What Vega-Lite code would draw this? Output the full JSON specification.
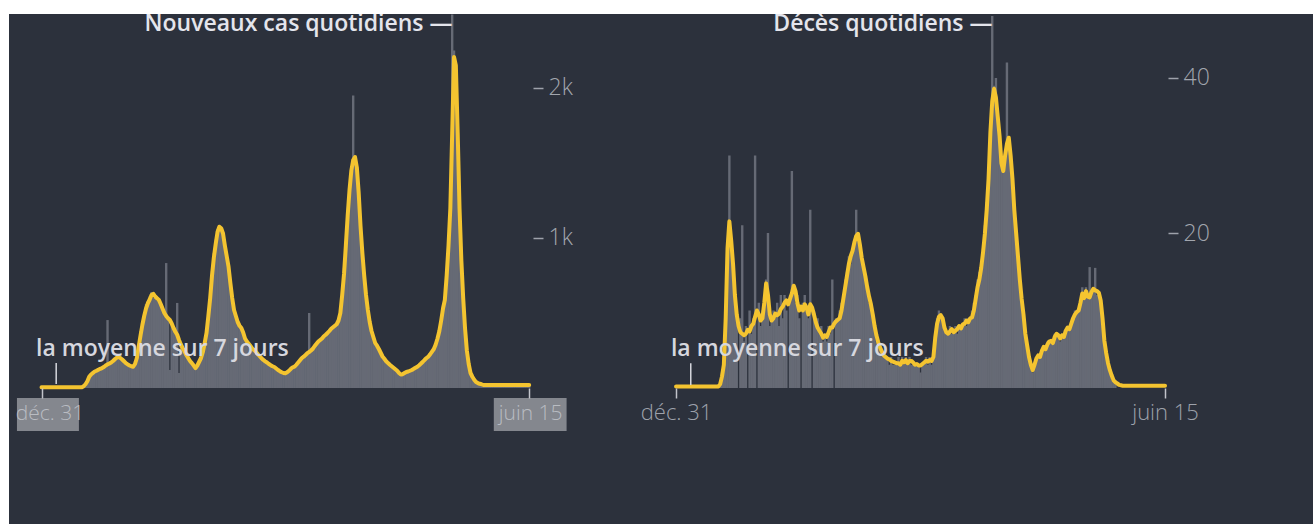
{
"$schema":"https://vega.github.io/schema/vega-lite/v6.json",
"background":"#ffffff",
"padding":{"left":9,"top":14,"right":0,"bottom":0},
"spacing":0,
"config":{"font":"Open Sans","view":{"stroke":null,"fill":"#2c313c"},"axis":{"grid":false,"domain":false}},
"datasets":{
"cases":[
{"t":0,"c":5,"a":5},{"t":2,"c":5,"a":5},{"t":4,"c":5,"a":5},{"t":6,"c":5,"a":5},{"t":8,"c":5,"a":5},{"t":10,"c":5,"a":5},{"t":12,"c":5,"a":5},{"t":14,"c":5,"a":5},{"t":16,"c":5,"a":5},{"t":18,"c":5,"a":5},{"t":20,"c":5,"a":5},{"t":22,"c":5,"a":5},{"t":24,"c":5,"a":5},{"t":26,"c":5,"a":5},{"t":28,"c":5,"a":5},{"t":30,"c":5,"a":5},{"t":32,"c":5,"a":5},{"t":34,"c":5,"a":5},{"t":36,"c":5,"a":5},{"t":38,"c":5,"a":5},{"t":40,"c":5,"a":5},{"t":42,"c":5,"a":5},{"t":44,"c":5,"a":5},
{"t":46,"c":15,"a":12},{"t":48,"c":30,"a":25},{"t":50,"c":50,"a":45},{"t":52,"c":85,"a":75},{"t":54,"c":80,"a":90},{"t":56,"c":110,"a":100},{"t":58,"c":100,"a":110},{"t":60,"c":125,"a":115},{"t":62,"c":110,"a":122},{"t":64,"c":140,"a":128},{"t":66,"c":120,"a":133},{"t":68,"c":150,"a":140},{"t":70,"c":140,"a":150},{"t":72,"c":453,"a":158},{"t":74,"c":150,"a":163},{"t":76,"c":180,"a":170},{"t":78,"c":170,"a":180},{"t":80,"c":205,"a":192},{"t":82,"c":195,"a":202},{"t":84,"c":220,"a":209},{"t":86,"c":190,"a":200},{"t":88,"c":200,"a":190},{"t":90,"c":165,"a":178},{"t":92,"c":175,"a":166},{"t":94,"c":150,"a":158},{"t":96,"c":160,"a":150},{"t":98,"c":140,"a":145},
{"t":100,"c":150,"a":142},{"t":102,"c":180,"a":160},{"t":104,"c":230,"a":200},{"t":106,"c":300,"a":275},{"t":108,"c":380,"a":350},{"t":110,"c":440,"a":420},{"t":112,"c":500,"a":480},{"t":114,"c":560,"a":530},{"t":116,"c":580,"a":565},{"t":118,"c":610,"a":590},{"t":120,"c":640,"a":620},{"t":122,"c":600,"a":628},{"t":124,"c":620,"a":610},{"t":126,"c":580,"a":598},{"t":128,"c":600,"a":587},{"t":130,"c":570,"a":560},{"t":132,"c":540,"a":530},{"t":134,"c":520,"a":500},{"t":136,"c":833,"a":480},{"t":138,"c":470,"a":465},{"t":140,"c":120,"a":453},{"t":142,"c":440,"a":430},{"t":144,"c":410,"a":400},{"t":146,"c":380,"a":375},{"t":148,"c":567,"a":355},{"t":150,"c":100,"a":320},
{"t":152,"c":300,"a":290},{"t":154,"c":270,"a":265},{"t":156,"c":250,"a":245},{"t":158,"c":230,"a":220},{"t":160,"c":210,"a":200},{"t":162,"c":185,"a":180},{"t":164,"c":170,"a":166},{"t":166,"c":155,"a":150},{"t":168,"c":140,"a":133},{"t":170,"c":160,"a":150},{"t":172,"c":185,"a":175},{"t":174,"c":210,"a":200},{"t":176,"c":250,"a":240},{"t":178,"c":320,"a":300},{"t":180,"c":380,"a":367},{"t":182,"c":500,"a":480},{"t":184,"c":630,"a":600},{"t":186,"c":780,"a":750},{"t":188,"c":900,"a":870},{"t":190,"c":990,"a":960},{"t":192,"c":1060,"a":1040},{"t":194,"c":1080,"a":1075},{"t":196,"c":1050,"a":1065},{"t":198,"c":1040,"a":1030},
{"t":200,"c":960,"a":950},{"t":202,"c":870,"a":880},{"t":204,"c":820,"a":809},{"t":206,"c":710,"a":700},{"t":208,"c":610,"a":600},{"t":210,"c":530,"a":520},{"t":212,"c":470,"a":480},{"t":214,"c":450,"a":440},{"t":216,"c":420,"a":415},{"t":218,"c":390,"a":400},{"t":220,"c":380,"a":370},{"t":222,"c":320,"a":330},{"t":224,"c":315,"a":310},{"t":226,"c":300,"a":295},{"t":228,"c":270,"a":280},{"t":230,"c":265,"a":262},{"t":232,"c":250,"a":253},{"t":234,"c":245,"a":240},{"t":236,"c":220,"a":225},{"t":238,"c":215,"a":212},{"t":240,"c":200,"a":198},{"t":242,"c":185,"a":187},{"t":244,"c":180,"a":178},{"t":246,"c":165,"a":170},{"t":248,"c":162,"a":160},
{"t":250,"c":150,"a":152},{"t":252,"c":148,"a":145},{"t":254,"c":135,"a":140},{"t":256,"c":132,"a":130},{"t":258,"c":118,"a":120},{"t":260,"c":115,"a":112},{"t":262,"c":102,"a":105},{"t":264,"c":98,"a":100},{"t":266,"c":100,"a":98},{"t":268,"c":110,"a":105},{"t":270,"c":112,"a":115},{"t":272,"c":135,"a":128},{"t":274,"c":130,"a":138},{"t":276,"c":150,"a":142},{"t":278,"c":160,"a":155},{"t":280,"c":165,"a":170},{"t":282,"c":195,"a":185},{"t":284,"c":190,"a":200},{"t":286,"c":215,"a":209},{"t":288,"c":225,"a":220},{"t":290,"c":228,"a":232},{"t":292,"c":500,"a":240},{"t":294,"c":245,"a":250},{"t":296,"c":270,"a":262},{"t":298,"c":285,"a":280},
{"t":300,"c":290,"a":295},{"t":302,"c":320,"a":310},{"t":304,"c":315,"a":320},{"t":306,"c":335,"a":330},{"t":308,"c":350,"a":345},{"t":310,"c":360,"a":355},{"t":312,"c":370,"a":367},{"t":314,"c":385,"a":380},{"t":316,"c":400,"a":395},{"t":318,"c":410,"a":405},{"t":320,"c":420,"a":415},{"t":322,"c":430,"a":425},{"t":324,"c":460,"a":450},{"t":326,"c":520,"a":500},{"t":328,"c":650,"a":620},{"t":330,"c":800,"a":760},{"t":332,"c":980,"a":950},{"t":334,"c":1180,"a":1150},{"t":336,"c":1350,"a":1320},{"t":338,"c":1470,"a":1450},{"t":340,"c":1950,"a":1520},{"t":342,"c":1530,"a":1540},{"t":344,"c":1480,"a":1470},{"t":346,"c":1310,"a":1300},{"t":348,"c":1090,"a":1080},
{"t":350,"c":910,"a":900},{"t":352,"c":760,"a":750},{"t":354,"c":630,"a":620},{"t":356,"c":530,"a":520},{"t":358,"c":450,"a":440},{"t":360,"c":385,"a":380},{"t":362,"c":345,"a":340},{"t":364,"c":305,"a":300},{"t":366,"c":280,"a":282},{"t":368,"c":262,"a":260},{"t":370,"c":240,"a":235},{"t":372,"c":212,"a":210},{"t":374,"c":198,"a":195},{"t":376,"c":180,"a":178},{"t":378,"c":168,"a":166},{"t":380,"c":152,"a":155},{"t":382,"c":148,"a":145},{"t":384,"c":132,"a":135},{"t":386,"c":128,"a":125},{"t":388,"c":112,"a":115},{"t":390,"c":98,"a":100},{"t":392,"c":92,"a":90},{"t":394,"c":95,"a":92},{"t":396,"c":98,"a":100},{"t":398,"c":110,"a":107},
{"t":400,"c":108,"a":110},{"t":402,"c":118,"a":115},{"t":404,"c":122,"a":120},{"t":406,"c":130,"a":128},{"t":408,"c":132,"a":135},{"t":410,"c":145,"a":142},{"t":412,"c":150,"a":152},{"t":414,"c":165,"a":163},{"t":416,"c":178,"a":175},{"t":418,"c":190,"a":188},{"t":420,"c":205,"a":200},{"t":422,"c":212,"a":209},{"t":424,"c":230,"a":225},{"t":426,"c":250,"a":243},{"t":428,"c":270,"a":260},{"t":430,"c":300,"a":290},{"t":432,"c":345,"a":330},{"t":434,"c":400,"a":380},{"t":436,"c":470,"a":450},{"t":438,"c":550,"a":530},{"t":440,"c":610,"a":587},{"t":442,"c":780,"a":750},{"t":444,"c":990,"a":950},{"t":446,"c":1250,"a":1200},{"t":448,"c":2490,"a":1700},
{"t":450,"c":2250,"a":2207},{"t":452,"c":2100,"a":2150},{"t":454,"c":1650,"a":1700},{"t":456,"c":1150,"a":1200},{"t":458,"c":800,"a":850},{"t":460,"c":560,"a":600},{"t":462,"c":370,"a":400},{"t":464,"c":230,"a":250},{"t":466,"c":150,"a":160},{"t":468,"c":90,"a":100},{"t":470,"c":65,"a":75},{"t":472,"c":50,"a":55},{"t":474,"c":35,"a":40},{"t":476,"c":30,"a":33},{"t":478,"c":25,"a":28},{"t":480,"c":22,"a":25},
{"t":482,"c":20,"a":20},{"t":484,"c":20,"a":20},{"t":486,"c":20,"a":20},{"t":488,"c":20,"a":20},{"t":490,"c":20,"a":20},{"t":492,"c":20,"a":20},{"t":494,"c":20,"a":20},{"t":496,"c":20,"a":20},{"t":498,"c":20,"a":20},{"t":500,"c":20,"a":20},{"t":502,"c":20,"a":20},{"t":504,"c":20,"a":20},{"t":506,"c":20,"a":20},{"t":508,"c":20,"a":20},{"t":510,"c":20,"a":20},{"t":512,"c":20,"a":20},{"t":514,"c":20,"a":20},{"t":516,"c":20,"a":20},{"t":518,"c":20,"a":20},{"t":520,"c":20,"a":20},{"t":522,"c":20,"a":20},{"t":524,"c":20,"a":20},{"t":526,"c":20,"a":20},{"t":528,"c":20,"a":20},{"t":530,"c":20,"a":20},{"t":532,"c":20,"a":20}
],
"deaths":[
{"t":0,"c":0,"a":0.2},{"t":2,"c":0,"a":0.2},{"t":4,"c":0,"a":0.2},{"t":6,"c":0,"a":0.2},{"t":8,"c":0,"a":0.2},{"t":10,"c":0,"a":0.2},{"t":12,"c":0,"a":0.2},{"t":14,"c":0,"a":0.2},{"t":16,"c":0,"a":0.2},{"t":18,"c":0,"a":0.2},{"t":20,"c":0,"a":0.2},{"t":22,"c":0,"a":0.2},{"t":24,"c":0,"a":0.2},{"t":26,"c":0,"a":0.2},{"t":28,"c":0,"a":0.2},{"t":30,"c":0,"a":0.2},{"t":32,"c":0,"a":0.2},{"t":34,"c":0,"a":0.2},{"t":36,"c":0,"a":0.2},{"t":38,"c":0,"a":0.2},{"t":40,"c":0,"a":0.2},{"t":42,"c":0,"a":0.2},{"t":44,"c":0,"a":0.2},{"t":46,"c":0,"a":0.2},
{"t":48,"c":1,"a":0.5},{"t":50,"c":2,"a":1.5},{"t":52,"c":4,"a":3},{"t":54,"c":10,"a":9},{"t":56,"c":16,"a":18},{"t":58,"c":30,"a":21.5},{"t":60,"c":18,"a":19},{"t":62,"c":14,"a":16},{"t":64,"c":11,"a":12},{"t":66,"c":10,"a":9.5},{"t":68,"c":0,"a":8},{"t":70,"c":9,"a":7.2},{"t":72,"c":21,"a":7},{"t":74,"c":6,"a":6.8},{"t":76,"c":8,"a":7},{"t":78,"c":0,"a":7.5},{"t":80,"c":10,"a":7.3},{"t":82,"c":7,"a":8},{"t":84,"c":9,"a":8.3},{"t":86,"c":30,"a":9.2},{"t":88,"c":0,"a":10},{"t":90,"c":11,"a":9.5},{"t":92,"c":8,"a":8.7},{"t":94,"c":10,"a":9},{"t":96,"c":12,"a":11},{"t":98,"c":14,"a":13.5},
{"t":100,"c":20,"a":12},{"t":102,"c":8,"a":9.5},{"t":104,"c":9,"a":8.7},{"t":106,"c":10,"a":9},{"t":108,"c":9,"a":9.6},{"t":110,"c":11,"a":9.4},{"t":112,"c":8,"a":9.6},{"t":114,"c":12,"a":10.2},{"t":116,"c":9,"a":10.5},{"t":118,"c":12,"a":11},{"t":120,"c":10,"a":11.3},{"t":122,"c":0,"a":10.8},{"t":124,"c":12,"a":11.5},{"t":126,"c":28,"a":12.2},{"t":128,"c":13,"a":13.2},{"t":130,"c":11,"a":12.5},{"t":132,"c":12,"a":11},{"t":134,"c":9,"a":10},{"t":136,"c":0,"a":10.5},{"t":138,"c":11,"a":10},{"t":140,"c":12,"a":10.8},{"t":142,"c":10,"a":10.4},{"t":144,"c":9,"a":9.5},{"t":146,"c":23,"a":10.8},{"t":148,"c":0,"a":10.4},
{"t":150,"c":10,"a":9.5},{"t":152,"c":8,"a":8.5},{"t":154,"c":9,"a":7.8},{"t":156,"c":7,"a":7.4},{"t":158,"c":8,"a":7},{"t":160,"c":6,"a":6.5},{"t":162,"c":7,"a":6.8},{"t":164,"c":6,"a":6.6},{"t":166,"c":8,"a":7.2},{"t":168,"c":7,"a":7.8},{"t":170,"c":14,"a":7.8},{"t":172,"c":0,"a":8.3},{"t":174,"c":9,"a":8.6},{"t":176,"c":9,"a":8.8},{"t":178,"c":10,"a":9},{"t":180,"c":11,"a":10},{"t":182,"c":12,"a":11.5},{"t":184,"c":14,"a":13},{"t":186,"c":15,"a":14.5},{"t":188,"c":17,"a":16},{"t":190,"c":16,"a":17},{"t":192,"c":18,"a":17.7},{"t":194,"c":19,"a":18.8},{"t":196,"c":23,"a":19.6},{"t":198,"c":19,"a":19.9},
{"t":200,"c":18,"a":18.5},{"t":202,"c":17,"a":16.8},{"t":204,"c":15,"a":15.6},{"t":206,"c":14,"a":14.4},{"t":208,"c":13,"a":13},{"t":210,"c":11,"a":11.8},{"t":212,"c":10,"a":10.8},{"t":214,"c":9,"a":9.5},{"t":216,"c":8,"a":8},{"t":218,"c":6,"a":6.8},{"t":220,"c":6,"a":5.9},{"t":222,"c":5,"a":5.2},{"t":224,"c":5,"a":4.7},{"t":226,"c":4,"a":4.2},{"t":228,"c":4,"a":4},{"t":230,"c":4,"a":3.8},{"t":232,"c":3,"a":3.7},{"t":234,"c":4,"a":3.5},{"t":236,"c":3,"a":3.4},{"t":238,"c":3,"a":3.3},{"t":240,"c":3,"a":3.2},{"t":242,"c":4,"a":3.2},{"t":244,"c":3,"a":3},{"t":246,"c":4,"a":3.5},{"t":248,"c":3,"a":3.3},
{"t":250,"c":4,"a":3.6},{"t":252,"c":3,"a":3.2},{"t":254,"c":4,"a":3.5},{"t":256,"c":3,"a":3.5},{"t":258,"c":3,"a":3.3},{"t":260,"c":3,"a":3},{"t":262,"c":3,"a":3.1},{"t":264,"c":3,"a":2.9},{"t":266,"c":2,"a":2.9},{"t":268,"c":3,"a":3.1},{"t":270,"c":3,"a":3.3},{"t":272,"c":4,"a":3.5},{"t":274,"c":3,"a":3.4},{"t":276,"c":4,"a":3.6},{"t":278,"c":3,"a":3.5},{"t":280,"c":4,"a":4},{"t":282,"c":7,"a":6.5},{"t":284,"c":9,"a":8.3},{"t":286,"c":10,"a":9.2},{"t":288,"c":9,"a":9.4},{"t":290,"c":9,"a":9},{"t":292,"c":8,"a":7.8},{"t":294,"c":7,"a":7.2},{"t":296,"c":7,"a":7},{"t":298,"c":8,"a":7.3},
{"t":300,"c":7,"a":7.6},{"t":302,"c":7,"a":7.2},{"t":304,"c":8,"a":7.4},{"t":306,"c":7,"a":7.6},{"t":308,"c":8,"a":8},{"t":310,"c":8,"a":7.7},{"t":312,"c":8,"a":8.2},{"t":314,"c":9,"a":8.3},{"t":316,"c":8,"a":8.7},{"t":318,"c":9,"a":8.5},{"t":320,"c":9,"a":9},{"t":322,"c":10,"a":9.1},{"t":324,"c":11,"a":10},{"t":326,"c":12,"a":11.5},{"t":328,"c":14,"a":13},{"t":330,"c":15,"a":14},{"t":332,"c":16,"a":15.5},{"t":334,"c":18,"a":17.5},{"t":336,"c":21,"a":19.9},{"t":338,"c":24,"a":23},{"t":340,"c":28,"a":27},{"t":342,"c":34,"a":33},{"t":344,"c":48,"a":37},{"t":346,"c":39,"a":38.6},{"t":348,"c":40,"a":37.5},
{"t":350,"c":35,"a":35},{"t":352,"c":32,"a":32.5},{"t":354,"c":29,"a":29},{"t":356,"c":28,"a":28},{"t":358,"c":30,"a":30},{"t":360,"c":42,"a":31.5},{"t":362,"c":32,"a":32.3},{"t":364,"c":30,"a":30},{"t":366,"c":26,"a":27},{"t":368,"c":22,"a":23},{"t":370,"c":19,"a":20},{"t":372,"c":16,"a":17},{"t":374,"c":14,"a":14},{"t":376,"c":11,"a":11.5},{"t":378,"c":9,"a":9.5},{"t":380,"c":7,"a":7},{"t":382,"c":5,"a":5.5},{"t":384,"c":4,"a":4},{"t":386,"c":3,"a":3},{"t":388,"c":2,"a":2.3},{"t":390,"c":3,"a":3},{"t":392,"c":4,"a":3.8},{"t":394,"c":4,"a":4.2},{"t":396,"c":4,"a":4},{"t":398,"c":5,"a":4.8},
{"t":400,"c":5,"a":5.3},{"t":402,"c":5,"a":5},{"t":404,"c":6,"a":5.6},{"t":406,"c":6,"a":6},{"t":408,"c":6,"a":6.1},{"t":410,"c":6,"a":5.8},{"t":412,"c":7,"a":6.6},{"t":414,"c":7,"a":7},{"t":416,"c":7,"a":6.8},{"t":418,"c":6,"a":6.4},{"t":420,"c":7,"a":6.8},{"t":422,"c":7,"a":6.6},{"t":424,"c":7,"a":7.4},{"t":426,"c":8,"a":7.8},{"t":428,"c":8,"a":7.6},{"t":430,"c":8,"a":8.3},{"t":432,"c":9,"a":9},{"t":434,"c":10,"a":9.5},{"t":436,"c":10,"a":9.8},{"t":438,"c":10,"a":10},{"t":440,"c":11,"a":11},{"t":442,"c":13,"a":12.2},{"t":444,"c":12,"a":11.6},{"t":446,"c":13,"a":12.5},{"t":448,"c":12,"a":11.8},
{"t":450,"c":15.6,"a":11.7},{"t":452,"c":12,"a":12.4},{"t":454,"c":13,"a":12.8},{"t":456,"c":15.5,"a":12.6},{"t":458,"c":12,"a":12.5},{"t":460,"c":12,"a":12.3},{"t":462,"c":11,"a":11.3},{"t":464,"c":9,"a":9},{"t":466,"c":6,"a":6.1},{"t":468,"c":4,"a":4.5},{"t":470,"c":3,"a":3.2},{"t":472,"c":2,"a":2.3},{"t":474,"c":1,"a":1.6},{"t":476,"c":1,"a":1},{"t":478,"c":1,"a":0.75},{"t":480,"c":0,"a":0.6},{"t":482,"c":0,"a":0.4},{"t":484,"c":0,"a":0.35},
{"t":486,"c":0,"a":0.3},{"t":488,"c":0,"a":0.3},{"t":490,"c":0,"a":0.3},{"t":492,"c":0,"a":0.3},{"t":494,"c":0,"a":0.3},{"t":496,"c":0,"a":0.3},{"t":498,"c":0,"a":0.3},{"t":500,"c":0,"a":0.3},{"t":502,"c":0,"a":0.3},{"t":504,"c":0,"a":0.3},{"t":506,"c":0,"a":0.3},{"t":508,"c":0,"a":0.3},{"t":510,"c":0,"a":0.3},{"t":512,"c":0,"a":0.3},{"t":514,"c":0,"a":0.3},{"t":516,"c":0,"a":0.3},{"t":518,"c":0,"a":0.3},{"t":520,"c":0,"a":0.3},{"t":522,"c":0,"a":0.3},{"t":524,"c":0,"a":0.3},{"t":526,"c":0,"a":0.3},{"t":528,"c":0,"a":0.3},{"t":530,"c":0,"a":0.3},{"t":532,"c":0,"a":0.3}
]
},
"hconcat":[
{
"width":596,"height":510,
"encoding":{
"x":{"field":"t","type":"quantitative","title":null,"scale":{"domain":[-30.03,609.25],"nice":false,"zero":false},
"axis":{"title":null,"values":[0,532],"labelExpr":"datum.value < 100 ? 'déc. 31' : 'juin 15'","orient":"bottom","offset":-136,"tickSize":10,"tickColor":"#c2c4cb","tickWidth":1.5,"labelFontSize":21,"labelFontWeight":300,"labelColor":"#b9bcc2","labelPadding":4,"labelOffset":{"condition":{"test":"datum.value < 100","value":8},"value":1},"labelFlush":false,"labelOverlap":false,"zindex":1}},
"y":{"field":"v","type":"quantitative","title":null,"scale":{"domain":[-906.67,2493.33],"nice":false,"zero":false},
"axis":{"title":null,"orient":"right","offset":-72,"values":[1000,2000],"labelExpr":"(datum.value/1000) + 'k'","tickSize":10,"tickColor":"#9ea2ab","tickWidth":1.5,"labelFontSize":23,"labelFontWeight":300,"labelColor":"#a2a6ae","labelPadding":5}}
},
"layer":[
{"data":{"values":[{"t":-26.8,"t2":40.8,"v":-66.7,"v2":-286.7},{"t":493.4,"t2":572.8,"v":-66.7,"v2":-286.7}]},
"mark":{"type":"rect","color":"#84878e"},
"encoding":{"x2":{"field":"t2"},"y2":{"field":"v2"}}},
{"data":{"name":"cases"},
"mark":{"type":"bar","width":2.4,"color":"#666a75"},
"encoding":{"y":{"field":"c","type":"quantitative","title":null}}},
{"data":{"name":"cases"},
"mark":{"type":"line","color":"#f4c430","strokeWidth":4,"strokeJoin":"round","strokeCap":"round"},
"encoding":{"y":{"field":"a","type":"quantitative","title":null}}},
{"data":{"values":[{"t":16,"v":167,"v2":27}]},
"mark":{"type":"rule","color":"#d6d7de","strokeWidth":1.5},
"encoding":{"y2":{"field":"v2"}}},
{"data":{"values":[{"t":448.4,"v":2380,"label":"Nouveaux cas quotidiens —"}]},
"mark":{"type":"text","align":"right","baseline":"alphabetic","fontSize":23,"fontWeight":600,"color":"#e4e5ec","clip":true},
"encoding":{"text":{"field":"label"}}},
{"data":{"values":[{"t":131.9,"v":213,"label":"la moyenne sur 7 jours"}]},
"mark":{"type":"text","align":"center","baseline":"alphabetic","fontSize":23,"fontWeight":600,"color":"#d6d7de","clip":true},
"encoding":{"text":{"field":"label"}}}
]
},
{
"width":708,"height":510,
"encoding":{
"x":{"field":"t","type":"quantitative","title":null,"scale":{"domain":[-71.87,687.55],"nice":false,"zero":false},
"axis":{"title":null,"values":[0,532],"labelExpr":"datum.value < 100 ? 'déc. 31' : 'juin 15'","orient":"bottom","offset":-136,"tickSize":10,"tickColor":"#c2c4cb","tickWidth":1.5,"labelFontSize":22,"labelFontWeight":300,"labelColor":"#9ea2ab","labelPadding":4,"labelFlush":false,"labelOverlap":false,"zindex":1}},
"y":{"field":"v","type":"quantitative","title":null,"scale":{"domain":[-17.548,48.258],"nice":false,"zero":false},
"axis":{"title":null,"orient":"right","offset":-145,"values":[20,40],"tickSize":10,"tickColor":"#9ea2ab","tickWidth":1.5,"labelFontSize":23,"labelFontWeight":300,"labelColor":"#a2a6ae","labelPadding":5}}
},
"layer":[
{"data":{"name":"deaths"},
"mark":{"type":"bar","width":2.4,"color":"#666a75"},
"encoding":{"y":{"field":"c","type":"quantitative","title":null}}},
{"data":{"name":"deaths"},
"mark":{"type":"line","color":"#f4c430","strokeWidth":4,"strokeJoin":"round","strokeCap":"round"},
"encoding":{"y":{"field":"a","type":"quantitative","title":null}}},
{"data":{"values":[{"t":16,"v":3.2,"v2":0.4}]},
"mark":{"type":"rule","color":"#d6d7de","strokeWidth":1.5},
"encoding":{"y2":{"field":"v2"}}},
{"data":{"values":[{"t":344.3,"v":46.06,"label":"Décès quotidiens —"}]},
"mark":{"type":"text","align":"right","baseline":"alphabetic","fontSize":23,"fontWeight":600,"color":"#e4e5ec","clip":true},
"encoding":{"text":{"field":"label"}}},
{"data":{"values":[{"t":131.9,"v":4.13,"label":"la moyenne sur 7 jours"}]},
"mark":{"type":"text","align":"center","baseline":"alphabetic","fontSize":23,"fontWeight":600,"color":"#d6d7de","clip":true},
"encoding":{"text":{"field":"label"}}}
]
}
]
}
